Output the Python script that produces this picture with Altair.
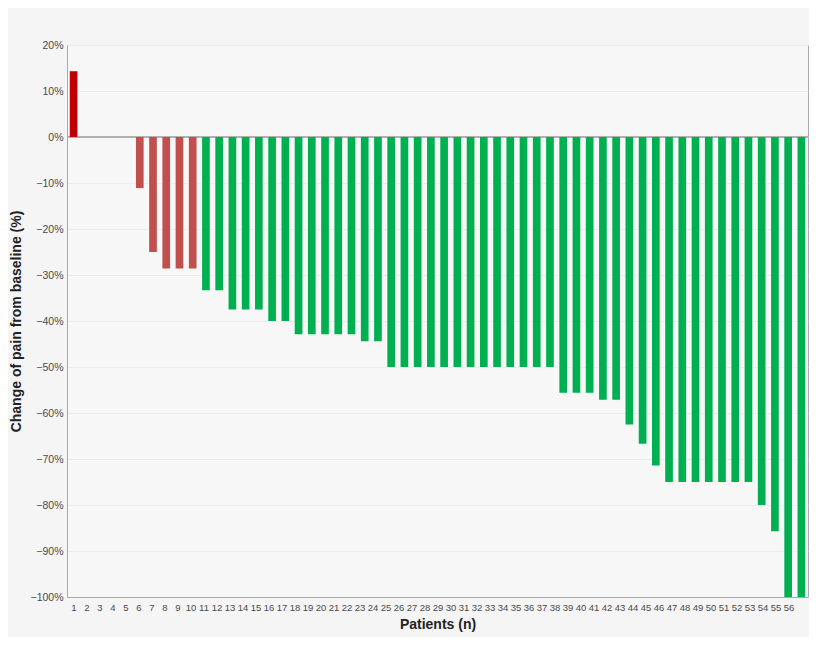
import altair as alt
import pandas as pd

patients = list(range(1, 57))
change = [14.3, 0, 0, 0, 0, -11.1, -25.0, -28.6, -28.6, -28.6,
          -33.3, -33.3, -37.5, -37.5, -37.5, -40.0, -40.0,
          -42.9, -42.9, -42.9, -42.9, -42.9, -44.4, -44.4,
          -50, -50, -50, -50, -50, -50, -50, -50, -50, -50, -50, -50, -50,
          -55.6, -55.6, -55.6, -57.1, -57.1, -62.5, -66.7, -71.4,
          -75, -75, -75, -75, -75, -75, -75, -80.0, -85.7, -100, -100]
response = (["Increase"] + ["No change"] * 4 + ["Under 30%"] * 5
            + ["30% or more"] * 46)

groups = ["Increase", "No change", "Under 30%", "30% or more"]
group_colors = ["#c00000", "#c0504d", "#c0504d", "#00b050"]
tick_positions = list(range(1, 58))
y_ticks = list(range(-100, 30, 10))

df = pd.DataFrame({"patient": patients, "change": change, "response": response})

font = "Liberation Sans"

bars = alt.Chart(df).mark_bar().encode(
    x=alt.X("patient:O", scale=alt.Scale(domain=patients, paddingInner=0.42,
                                         paddingOuter=0.21), axis=None),
    y=alt.Y("change:Q",
            scale=alt.Scale(domain=[-100, 20], nice=False, zero=False),
            axis=alt.Axis(values=y_ticks,
                          labelExpr="replace(datum.label, '-', '\u2212') + '%'",
                          title="Change of pain from baseline (%)",
                          ticks=False, labelPadding=4, titlePadding=7,
                          grid=True, gridColor="#ededed",
                          domainColor="#aaaaaa")),
    color=alt.Color("response:N", scale=alt.Scale(domain=groups, range=group_colors),
                    legend=None),
)

zero_line = alt.Chart(df).mark_rule(color="#b0b0b0", strokeWidth=1).encode(
    y=alt.datum(0)
)

# labels for the patient axis
patient_axis = alt.Chart(df).mark_point(opacity=0).encode(
    x=alt.X("patient:O", scale=alt.Scale(domain=tick_positions, paddingInner=0,
                                         paddingOuter=0),
            axis=alt.Axis(title="Patients (n)", labelAngle=0, ticks=False,
                          labelPadding=5, titlePadding=6,
                          labelExpr="datum.value == 57 ? '' : datum.label",
                          domainColor="#aaaaaa")),
)

chart = alt.layer(zero_line, bars, patient_axis).resolve_scale(
    x="independent"
).properties(
    width=741,
    height=552,
    background="#f5f5f5",
    padding={"left": 1, "top": 32, "right": 0, "bottom": 5},
).configure_view(
    stroke="#aaaaaa", fill="#f7f7f7"
).configure_axis(
    labelFont=font, titleFont=font, labelColor="#4a4a4a", titleColor="#222222",
    labelFontSize=10.5, titleFontSize=14, titleFontWeight="bold",
).configure_axisX(labelFontSize=9.5)

chart.save("out.html", embed_options={"renderer": "svg", "actions": False})
